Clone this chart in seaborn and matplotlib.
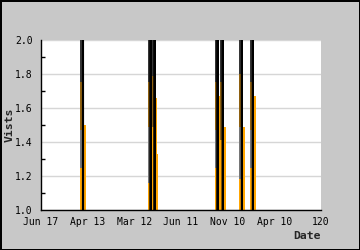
import matplotlib
matplotlib.use("Agg")
import matplotlib.pyplot as plt
import seaborn as sns
import pandas as pd
import numpy as np

# ---- data ----
x_tick_pos = [0, 20, 40, 60, 80, 100, 120]
x_tick_labels = ["Jun 17", "Apr 13", "Mar 12", "Jun 11", "Nov 10", "Apr 10", "120"]
y_ticks = [1.0, 1.2, 1.4, 1.6, 1.8, 2.0]

spike_x = [18.0, 47.0, 48.7, 75.7, 77.9, 86.1, 90.8]
spike_peak = [3.0, 3.0, 3.0, 3.0, 3.0, 3.0, 3.0]
orange_low_top = [1.25, 1.16, 1.49, 1.25, 1.41, 1.18, 1.25]
gray_top = [1.47, 1.49, 1.49, 1.47, 1.41, 1.49, 1.47]
brown_top = [1.75, 1.75, 1.79, 1.75, 1.75, 1.80, 1.75]
right_top = [1.50, 1.49, 1.66, 1.67, 1.49, 1.49, 1.67]
extra_x = [49.9, 92.0]
extra_top = [1.33, 1.33]

# ---- style ----
sns.set_style("white")
plt.rcParams["font.family"] = ["DejaVu Sans Mono"]

BG = "#C8C8C8"
ORANGE = "#FFA500"
GRAY = "#767676"
BROWN = "#8E6010"
DARK = "#363636"

fig = plt.figure(figsize=(3.6, 2.5), dpi=100, facecolor=BG, edgecolor="black", linewidth=1.0)
ax = fig.add_axes([41 / 360, 1 - 210 / 250, 280 / 360, 170 / 250])
ax.set_facecolor("white")

base = 1.0
top_lim = 2.05
s = np.array(spike_x)
lw_left = 1.0
lw_right = 1.0
left_c = s - 0.8
right_c = s + 0.7

# left column, stacked segments
ax.bar(left_c, np.array(orange_low_top) - base, bottom=base, width=lw_left, color=ORANGE, linewidth=0, zorder=2)
ax.bar(left_c, np.array(gray_top) - np.array(orange_low_top), bottom=orange_low_top, width=lw_left, color=GRAY, linewidth=0, zorder=2)
ax.bar(left_c, np.array(brown_top) - np.array(gray_top), bottom=gray_top, width=lw_left, color=BROWN, linewidth=0, zorder=2)
ax.bar(left_c, top_lim - np.array(brown_top), bottom=brown_top, width=lw_left, color=DARK, linewidth=0, zorder=2)
# right column
ax.bar(right_c, np.array(right_top) - base, bottom=base, width=lw_right, color=ORANGE, linewidth=0, zorder=2)
# extra thin bars
ax.bar(extra_x, np.array(extra_top) - base, bottom=base, width=0.6, color=ORANGE, linewidth=0, zorder=2)

# black spike line
lx, ly = [], []
for xv, pk in zip(spike_x, spike_peak):
    lx += [xv - 0.04, xv, xv + 0.04]
    ly += [0.9, pk, 0.9]
line_df = pd.DataFrame({"x": lx, "y": ly})
sns.lineplot(data=line_df, x="x", y="y", color="black", linewidth=1.45,
             estimator=None, sort=False, ax=ax, zorder=3)

ax.set_xlim(0, 120)
ax.set_ylim(1.0, 2.0)
ax.set_xticks(x_tick_pos)
ax.set_xticklabels(x_tick_labels)
ax.set_yticks(y_ticks)
ax.set_yticklabels([f"{v:.1f}" for v in y_ticks])
ax.set_yticks(np.arange(1.1, 2.0, 0.2), minor=True)

ax.yaxis.grid(True, color="#D6D6D6", linewidth=1, zorder=0)
ax.xaxis.grid(False)
ax.set_axisbelow(True)

for side in ["top", "right"]:
    ax.spines[side].set_visible(False)
for side in ["left", "bottom"]:
    ax.spines[side].set_color("black")
    ax.spines[side].set_linewidth(1)
    ax.spines[side].set_zorder(4)

ax.tick_params(axis="both", which="major", direction="in", length=3.6, width=1,
               color="black", labelsize=7, labelcolor="black")
ax.tick_params(axis="y", which="major", pad=6)
ax.tick_params(axis="x", which="major", pad=5)
ax.tick_params(axis="y", which="minor", direction="in", length=3, width=1, color="black", left=True)

ax.set_xlabel("Date", fontweight="bold", fontsize=8.2, ha="right")
ax.xaxis.set_label_coords(1.0, -0.125)
ax.set_ylabel("Vists", fontweight="bold", fontsize=8.2)
ax.yaxis.set_label_coords(-0.093, 0.5)

fig.savefig("out.png", dpi=100, facecolor=BG, edgecolor="black")
